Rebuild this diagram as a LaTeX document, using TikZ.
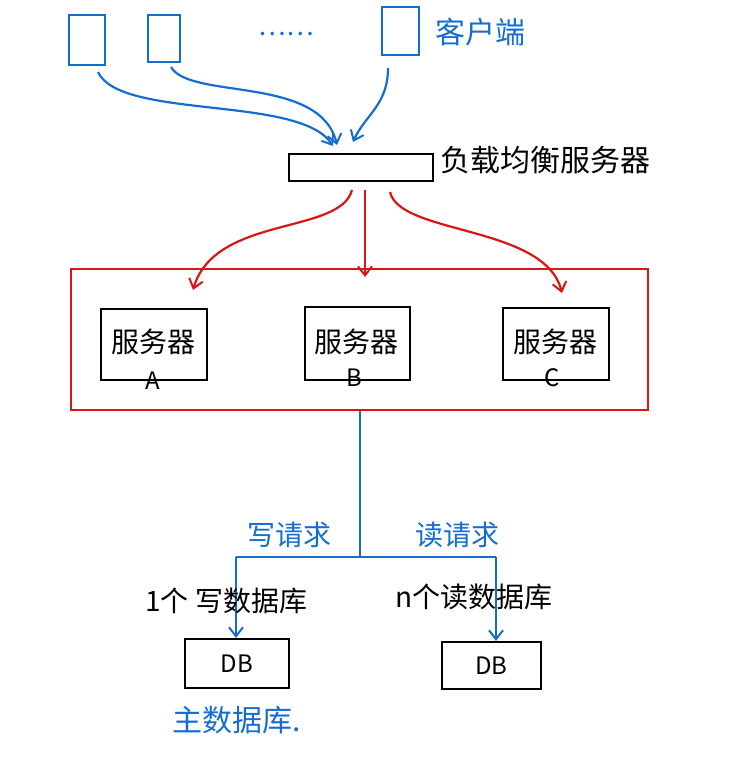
\documentclass[tikz,border=0pt]{standalone}
\usepackage{fontspec}
\setmainfont{Noto Sans CJK SC}
\usetikzlibrary{arrows.meta}
\definecolor{hblue}{RGB}{20,110,210}
\definecolor{hred}{RGB}{220,20,20}
\tikzset{
  x=1pt, y=-1pt,
  bluebox/.style={draw=hblue, line width=2.2pt},
  blackbox/.style={draw=black, line width=2.2pt},
  bluearrow/.style={draw=hblue, line width=2.2pt, -{Straight Barb[length=9pt,width=14pt,line width=2pt]}},
  redarrow/.style={draw=hred, line width=2.2pt, -{Straight Barb[length=9pt,width=14pt,line width=2pt]}},
  blueline/.style={draw=hblue, line width=2.2pt},
  lbl/.style={font=\fontsize{28}{30}\selectfont, inner sep=0pt},
  biglbl/.style={font=\fontsize{30}{32}\selectfont, inner sep=0pt},
  letter/.style={font=\fontsize{24}{24}\selectfont, inner sep=0pt},
}
\begin{document}
\begin{tikzpicture}
\useasboundingbox (0,0) rectangle (736,773);
% clients
\node[bluebox, minimum width=36pt, minimum height=50pt] (c1) at (87,40) {};
\node[bluebox, minimum width=32pt, minimum height=47pt] (c2) at (164,38.5) {};
\node[bluebox, minimum width=37pt, minimum height=48pt] (c3) at (400.5,31) {};
\node[text=hblue, font=\fontsize{26}{26}\selectfont, inner sep=0pt] (dots) at (286,34) {……};
\node[biglbl, text=hblue, anchor=west] (clbl) at (435,32) {客户端};
% load balancer
\node[blackbox, minimum width=144pt, minimum height=27pt] (lb) at (361,167.5) {};
\node[biglbl, anchor=west] (lblbl) at (440,160) {负载均衡服务器};
\coordinate (t1) at (333,146);
\coordinate (t2) at (337,145);
\coordinate (t3) at (353,142);
\draw[bluearrow] (98,72) .. controls (120,120) and (300,95) .. (t1);
\draw[bluearrow] (171,67) .. controls (190,100) and (320,75) .. (t2);
\draw[bluearrow] (388,68) .. controls (388,105) and (365,115) .. (t3);
% server cluster
\node[draw=hred, line width=2.2pt, minimum width=577pt, minimum height=141pt] (cluster) at (359.5,339.5) {};
\node[blackbox, minimum width=106pt, minimum height=71pt] (sa) at (154,344.5) {};
\node[blackbox, minimum width=105pt, minimum height=73pt] (sb) at (357.5,343.5) {};
\node[blackbox, minimum width=106pt, minimum height=72pt] (sc) at (556,344) {};
\node[lbl] (sat) at (153,342) {服务器};
\node[lbl] (sbt) at (356,342) {服务器};
\node[lbl] (sct) at (555,342) {服务器};
\node[letter] (la) at (153,381) {A};
\node[letter] (lbB) at (354,378) {B};
\node[letter] (lc) at (552,378) {C};
\coordinate (r1s) at (352,190);
\coordinate (r2s) at (365,190);
\coordinate (r3s) at (390,192);
\coordinate (r1e) at (193,290);
\coordinate (r2e) at (365,277);
\coordinate (r3e) at (562,293);
\draw[redarrow] (r1s) .. controls (340,235) and (215,215) .. (r1e);
\draw[redarrow] (r2s) -- (r2e);
\draw[redarrow] (r3s) .. controls (400,235) and (545,225) .. (r3e);
% databases
\node[blackbox, minimum width=104pt, minimum height=49pt] (db1) at (237,663.5) {};
\node[blackbox, minimum width=99pt, minimum height=47pt] (db2) at (491.5,665.5) {};
\node[letter] at (db1) {DB};
\node[letter] at (db2) {DB};
\coordinate (split) at (360,557);
\coordinate (wl) at (236,557);
\coordinate (rl) at (496,557);
\draw[blueline] (cluster.south -| split) -- (split);
\draw[blueline] (wl) -- (rl);
\draw[bluearrow] (wl) -- (wl |- db1.north);
\draw[bluearrow] (rl) -- (rl |- db2.north);
\node[lbl, text=hblue] (wr) at (289,535) {写请求};
\node[lbl, text=hblue] (rr) at (457,535) {读请求};
\node[lbl, anchor=west] (wdb) at (145,601) {1个 写数据库};
\node[lbl, anchor=west] (rdb) at (395,597) {n个读数据库};
\node[biglbl, text=hblue, anchor=west] (mdb) at (172,720) {主数据库.};
\end{tikzpicture}
\end{document}
